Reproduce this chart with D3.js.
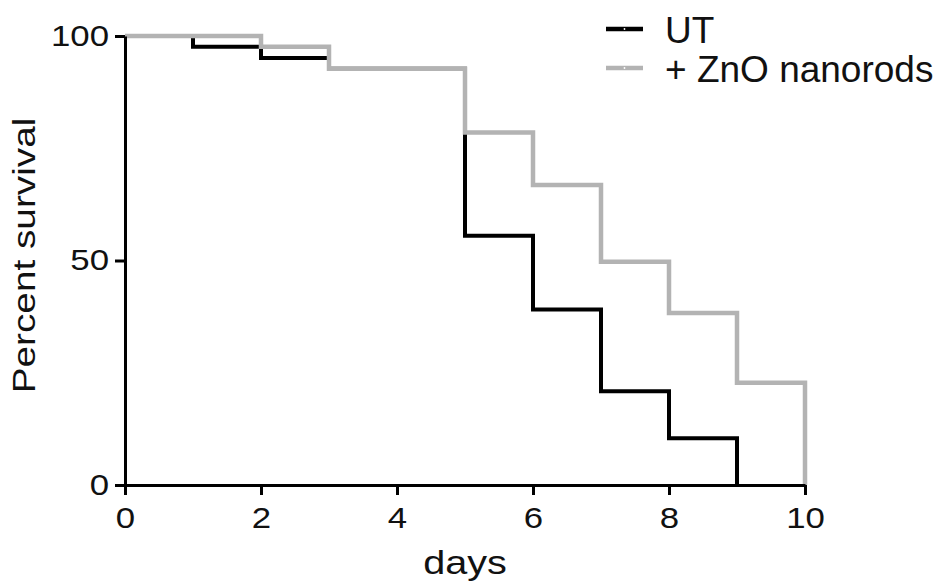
<!DOCTYPE html>
<html>
<head>
<meta charset="utf-8">
<script src="https://cdn.jsdelivr.net/npm/d3@7"></script>
<style>
	body { margin: 0; background: #fff; }
	svg { display: block; font-family: "Liberation Sans", Arial, sans-serif; }
</style>
</head>
<body>
<svg id="chart" width="948" height="583"></svg>
<script>
// Kaplan-Meier steps
var utDays = [0, 1, 2, 3, 5, 6, 7, 8, 9];
var utSurvival = [100, 97.6, 95.1, 92.7, 55.5, 39.1, 20.9, 10.4, 0];
var znoDays = [0, 2, 3, 5, 6, 7, 8, 9, 10];
var znoSurvival = [100, 97.6, 92.7, 78.5, 66.8, 49.7, 38.3, 22.8, 0];
var xTicks = [0, 2, 4, 6, 8, 10];
var yTicks = [0, 50, 100];
var seriesNames = ["UT", "+ ZnO nanorods"];
var seriesColors = ["#000000", "#b3b3b3"];

var stretch = 1.2; // text in the figure is wider than plain Arial

var svg = d3.select("#chart");
var x = d3.scaleLinear().domain([0, 10]).range([125, 805]);
var y = d3.scaleLinear().domain([0, 100]).range([485, 36]);

var series = [
	{ name: seriesNames[0], color: seriesColors[0], width: 4,
		pts: utDays.map(function(d, i) { return [d, utSurvival[i]]; }) },
	{ name: seriesNames[1], color: seriesColors[1], width: 4.5,
		pts: znoDays.map(function(d, i) { return [d, znoSurvival[i]]; }) }
];

var line = d3.line()
	.x(function(d) { return x(d[0]); })
	.y(function(d) { return y(d[1]); })
	.curve(d3.curveStepAfter);

svg.append("g").selectAll("path")
	.data(series)
	.enter().append("path")
		.attr("d", function(d) { return line(d.pts); })
		.attr("fill", "none")
		.attr("stroke", function(d) { return d.color; })
		.attr("stroke-width", function(d) { return d.width; })
		.attr("stroke-linejoin", "miter")
		.attr("stroke-linecap", "butt");

// axes
var xAxis = svg.append("g")
	.attr("transform", "translate(0," + y(0) + ")")
	.call(d3.axisBottom(x).tickValues(xTicks).tickSize(10).tickSizeOuter(0).tickPadding(12));

var yAxis = svg.append("g")
	.attr("transform", "translate(" + x(0) + ",0)")
	.call(d3.axisLeft(y).tickValues(yTicks).tickSize(10).tickSizeOuter(0));

[xAxis, yAxis].forEach(function(g) {
	g.select(".domain").attr("stroke", "#000").attr("stroke-width", 3);
	g.selectAll(".tick line").attr("stroke", "#000").attr("stroke-width", 3);
	g.selectAll("text")
		.attr("fill", "#111")
		.style("font-size", "29px")
		.style("font-family", "'Liberation Sans', Arial, sans-serif");
});
xAxis.selectAll("text").attr("transform", "scale(" + stretch + ",1)");
yAxis.selectAll("text")
	.attr("x", -16 / stretch)
	.attr("transform", "scale(" + stretch + ",1)");

// axis titles
svg.append("text")
	.attr("transform", "translate(" + ((x(0) + x(10)) / 2) + ",574) scale(" + stretch + ",1)")
	.attr("text-anchor", "middle")
	.style("font-size", "33px")
	.attr("fill", "#111")
	.text("days");

svg.append("text")
	.attr("transform", "translate(35," + ((y(0) + y(100)) / 2 - 5) + ") rotate(-90) scale(1.25,1)")
	.attr("text-anchor", "middle")
	.style("font-size", "31px")
	.attr("fill", "#111")
	.text("Percent survival");

// legend
var legend = svg.append("g").selectAll("g")
	.data(series)
	.enter().append("g")
		.attr("transform", function(d, i) { return "translate(606," + (29 + i * 39) + ")"; });

legend.append("line")
	.attr("x1", 0).attr("x2", 37)
	.attr("stroke", function(d) { return d.color; })
	.attr("stroke-width", 4.5);

legend.append("circle")
	.attr("cx", 18.5).attr("r", 0.9)
	.attr("fill", "#fff");

legend.append("text")
	.attr("x", 59)
	.attr("y", 13.5)
	.style("font-size", "37px")
	.attr("fill", "#111")
	.text(function(d) { return d.name; });
</script>
</body>
</html>
